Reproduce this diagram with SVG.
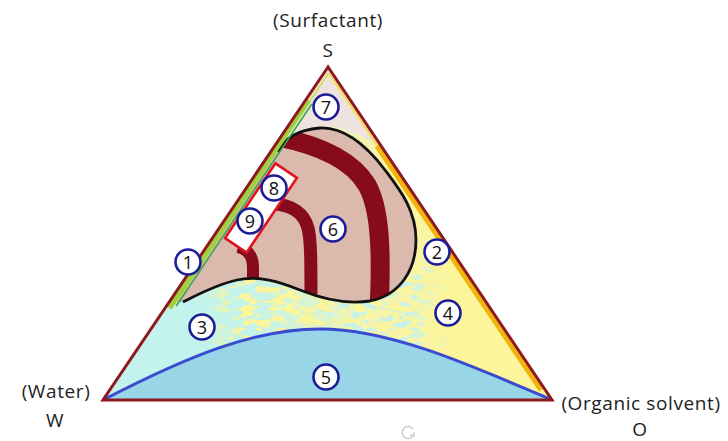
<svg xmlns="http://www.w3.org/2000/svg" width="728" height="441" viewBox="0 0 728 441">
<style>
.lbl circle{fill:#ffffff;stroke:#1c1c96;stroke-width:2.6}
.lbl text{font-family:"Open Sans","Liberation Sans",sans-serif;font-size:18px;fill:#111;text-anchor:middle}
.title{font-family:"Open Sans","Liberation Sans",sans-serif;font-size:19px;letter-spacing:0.6px;fill:#222;text-anchor:middle}
.stripe{fill:none;stroke:#860b1c;stroke-linecap:butt}
</style>
<defs>
<linearGradient id="baseGrad" gradientUnits="userSpaceOnUse" x1="200" y1="0" x2="450" y2="0">
<stop offset="0" stop-color="#c3f3ec"/>
<stop offset="0.25" stop-color="#c6f3e8"/>
<stop offset="0.65" stop-color="#f5f4ae"/>
<stop offset="1" stop-color="#fcf59c"/>
</linearGradient>
<filter id="speckY" x="0" y="0" width="1" height="1" color-interpolation-filters="sRGB">
<feTurbulence type="fractalNoise" baseFrequency="0.07 0.16" numOctaves="3" seed="7"/>
<feColorMatrix type="matrix" values="0 0 0 0 0.99  0 0 0 0 0.96  0 0 0 0 0.6  14 0 0 0 -7.0"/>
</filter>
<filter id="speckC" x="0" y="0" width="1" height="1" color-interpolation-filters="sRGB">
<feTurbulence type="fractalNoise" baseFrequency="0.08 0.18" numOctaves="3" seed="21"/>
<feColorMatrix type="matrix" values="0 0 0 0 0.78  0 0 0 0 0.95  0 0 0 0 0.92  14 0 0 0 -7.4"/>
</filter>
<linearGradient id="mY" gradientUnits="userSpaceOnUse" x1="200" y1="0" x2="440" y2="0">
<stop offset="0" stop-color="#000"/>
<stop offset="0.18" stop-color="#fff"/>
<stop offset="0.7" stop-color="#fff"/>
<stop offset="1" stop-color="#000"/>
</linearGradient>
<linearGradient id="mC" gradientUnits="userSpaceOnUse" x1="300" y1="0" x2="450" y2="0">
<stop offset="0" stop-color="#000"/>
<stop offset="0.3" stop-color="#fff"/>
<stop offset="0.7" stop-color="#fff"/>
<stop offset="1" stop-color="#000"/>
</linearGradient>
<mask id="maskY" maskUnits="userSpaceOnUse" x="0" y="0" width="728" height="441"><rect x="0" y="0" width="728" height="441" fill="url(#mY)"/></mask>
<mask id="maskC" maskUnits="userSpaceOnUse" x="0" y="0" width="728" height="441"><rect x="0" y="0" width="728" height="441" fill="url(#mC)"/></mask>
<clipPath id="triClip"><polygon points="328,67 103,400 552,400"/></clipPath>
<clipPath id="blobClip"><path d="M278 152 C285 138 297 130 320 128 C345 127 366 145 385 170 C400 190 416 210 416 240 C416 270 400 295 370 301 C345 305 320 298 300 290 C280 282 258 275 237 280 C215 285 195 296 183 302 L172 302 L273 151 Z"/></clipPath>
</defs>

<g id="region-3-4">
<polygon points="328,67 103,400 552,400" fill="url(#baseGrad)"/>
<g clip-path="url(#triClip)">
<rect x="190" y="270" width="260" height="80" fill="#000" filter="url(#speckY)" mask="url(#maskY)"/>
<rect x="300" y="260" width="150" height="90" fill="#000" filter="url(#speckC)" mask="url(#maskC)"/>
</g>
</g>

<g id="region-7">
<path d="M328 67 L270.6 152 L300 131 L335 126 L365 138 L382.5 148 Z" fill="#eee3df"/>
</g>

<g id="region-6">
<path d="M278 152 C285 138 297 130 320 128 C345 127 366 145 385 170 C400 190 416 210 416 240 C416 270 400 295 370 301 C345 305 320 298 300 290 C280 282 258 275 237 280 C215 285 195 296 183 302 L172 302 L273 151 Z" fill="#dbb9ad"/>
<g clip-path="url(#blobClip)">
<path class="stripe" stroke-width="19" d="M278 137 C318 145 352 160 367 185 C380 208 382 250 379 310"/>
<path class="stripe" stroke-width="13" d="M274 204 C292 205 304 213 308 228 C311 240 311 260 311 310"/>
<path class="stripe" stroke-width="12" d="M238 247 C250 250 253 258 253 268 L253 295"/>
</g>
<path d="M278 152 C285 138 297 130 320 128 C345 127 366 145 385 170 C400 190 416 210 416 240 C416 270 400 295 370 301 C345 305 320 298 300 290 C280 282 258 275 237 280 C215 285 195 296 183 302" fill="none" stroke="#111" stroke-width="2.8" stroke-linejoin="round"/>
</g>

<g id="region-8-9">
<rect x="-13" y="-45" width="26" height="90" transform="translate(261,208) rotate(34)" fill="#ffffff" stroke="#e0141e" stroke-width="2.6"/>
</g>

<g id="region-1">
<line x1="328.6" y1="73" x2="310" y2="101" stroke="#cfe24a" stroke-width="1.6"/>
<line x1="308.6" y1="100" x2="169.4" y2="308" stroke="#9fd23a" stroke-width="5.5"/>
<line x1="311.8" y1="104" x2="176.3" y2="306" stroke="#34a84a" stroke-width="1.6"/>
</g>

<g id="region-2">
<line x1="329" y1="73.7" x2="381.3" y2="151.7" stroke="#f7e04a" stroke-width="2"/>
<line x1="377" y1="146" x2="541" y2="390" stroke="#f2b40c" stroke-width="5"/>
</g>

<g id="region-5">
<path d="M103 400 C190 355 255 329 320 329 C390 329 470 365 552 400 Z" fill="#98d6e7"/>
<path d="M103 400 C190 355 255 329 320 329 C390 329 470 365 552 400" fill="none" stroke="#3b4bd0" stroke-width="3"/>
</g>

<g id="connectors">
<polygon points="328,67 103,400 552,400" fill="none" stroke="#8c1a1e" stroke-width="3" stroke-linejoin="miter"/>
</g>

<g id="label-7" class="lbl"><circle cx="326" cy="107" r="12.5"/><text x="326" y="113.5">7</text></g>
<g id="label-8" class="lbl"><circle cx="274" cy="188" r="12.5"/><text x="274" y="194.5">8</text></g>
<g id="label-9" class="lbl"><circle cx="250" cy="221" r="12.5"/><text x="250" y="227.5">9</text></g>
<g id="label-6" class="lbl"><circle cx="333" cy="229" r="12.5"/><text x="333" y="235.5">6</text></g>
<g id="label-1" class="lbl"><circle cx="188" cy="262" r="12.5"/><text x="188" y="268.5">1</text></g>
<g id="label-2" class="lbl"><circle cx="437" cy="252" r="12.5"/><text x="437" y="258.5">2</text></g>
<g id="label-3" class="lbl"><circle cx="202" cy="327" r="12.5"/><text x="202" y="333.5">3</text></g>
<g id="label-4" class="lbl"><circle cx="448" cy="313" r="12.5"/><text x="448" y="319.5">4</text></g>
<g id="label-5" class="lbl"><circle cx="326" cy="377" r="12.5"/><text x="326" y="383.5">5</text></g>

<g id="vertex-S"><text class="title" x="328" y="27">(Surfactant)</text><text class="title" x="328" y="57">S</text></g>
<g id="vertex-W"><text class="title" x="56" y="398">(Water)</text><text class="title" x="55" y="427">W</text></g>
<g id="vertex-O"><text class="title" x="641" y="409.5">(Organic solvent)</text><text class="title" x="640" y="436">O</text></g>

<g id="icon" fill="none" stroke="#cccccc" stroke-width="1.5">
<path d="M413 429 A6 6 0 1 0 413.5 435"/>
<path d="M410 435 L414 436 L414 432"/>
</g>
</svg>
